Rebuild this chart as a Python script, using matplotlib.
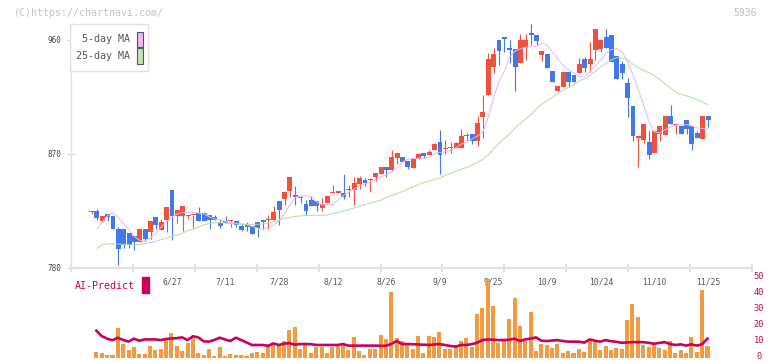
import numpy as np
import matplotlib.pyplot as plt
from matplotlib.patches import Rectangle
from matplotlib.transforms import blended_transform_factory

# daily candles (6/6 .. 11/25)
open_ = np.array([
    824.0, 825.0, 817.4, 822.7, 821.1, 811.0, 810.6, 807.4, 805.3, 800.5,
    810.6, 808.4, 820.1, 810.0, 818.1, 841.6, 821.1, 821.1, 821.1, 821.5,
    823.2, 823.2, 821.9, 820.5, 815.3, 817.4, 817.0, 817.4, 813.2, 814.0,
    813.2, 816.3, 817.9, 817.7, 817.9, 832.9, 834.5, 840.8, 837.6, 835.2,
    830.5, 833.7, 832.9, 827.4, 831.3, 839.0, 839.5, 839.2, 841.4, 841.6,
    846.3, 849.5, 849.3, 851.9, 854.2, 859.8, 857.4, 866.9, 867.6, 864.5,
    859.0, 866.1, 870.8, 869.2, 873.2, 879.5, 873.6, 874.6, 874.8, 874.8,
    884.0, 885.8, 880.5, 899.2, 916.6, 938.7, 960.0, 962.4, 953.7, 952.9,
    941.9, 953.7, 965.5, 963.9, 948.4, 949.0, 935.5, 919.8, 922.9, 934.7,
    932.4, 934.0, 945.0, 941.1, 952.1, 952.9, 962.4, 963.9, 947.4, 941.1,
    926.1, 907.9, 883.0, 881.1, 879.5, 870.8, 885.8, 885.0, 900.0, 892.7,
    892.1, 896.9, 892.1, 886.6, 881.9, 900.0])
high = np.array([
    825.0, 826.6, 821.1, 822.7, 821.1, 812.6, 810.6, 807.4, 805.3, 810.6,
    810.6, 817.4, 820.1, 818.5, 828.2, 841.6, 825.8, 829.0, 822.1, 822.0,
    828.0, 823.2, 821.9, 821.6, 818.5, 821.1, 817.5, 817.4, 814.8, 816.3,
    813.2, 816.3, 817.9, 821.6, 829.0, 832.9, 840.0, 851.9, 844.8, 836.9,
    833.7, 836.9, 832.9, 835.3, 836.9, 845.5, 840.8, 854.2, 845.5, 851.9,
    852.7, 851.1, 851.1, 855.0, 859.8, 859.8, 873.2, 870.8, 867.6, 864.5,
    866.9, 870.8, 870.8, 873.2, 878.7, 889.0, 881.1, 879.5, 879.5, 889.8,
    886.4, 885.8, 900.0, 916.6, 949.8, 953.7, 960.0, 962.4, 960.0, 952.9,
    964.8, 964.8, 972.6, 963.9, 951.3, 949.0, 935.5, 923.7, 934.7, 934.7,
    932.4, 945.8, 946.6, 958.4, 968.7, 960.8, 968.7, 963.9, 947.4, 943.4,
    930.0, 907.9, 883.5, 893.7, 888.2, 888.2, 892.1, 900.0, 908.7, 893.7,
    892.1, 896.9, 892.1, 888.2, 900.0, 900.0])
low = np.array([
    823.0, 818.1, 816.6, 817.4, 811.0, 782.6, 795.6, 795.6, 794.5, 800.5,
    801.6, 803.2, 811.0, 810.0, 808.7, 802.1, 815.8, 809.5, 818.7, 811.4,
    817.4, 817.4, 810.6, 817.9, 811.4, 815.3, 812.6, 812.6, 809.5, 809.5,
    806.9, 804.7, 810.6, 811.0, 817.9, 814.0, 829.8, 835.8, 829.8, 831.6,
    822.1, 829.0, 825.3, 825.3, 831.3, 839.0, 839.5, 834.7, 836.3, 829.8,
    842.6, 845.0, 840.3, 848.7, 854.2, 851.9, 857.4, 862.1, 863.7, 858.2,
    859.0, 866.1, 866.9, 869.2, 873.2, 854.2, 870.0, 870.6, 874.8, 874.8,
    880.5, 878.1, 876.6, 882.7, 916.6, 934.0, 940.3, 950.5, 941.9, 919.8,
    941.9, 944.5, 956.3, 956.3, 943.4, 937.9, 926.9, 919.8, 922.9, 922.9,
    926.9, 934.0, 934.7, 934.7, 944.2, 950.5, 953.7, 942.7, 929.2, 929.2,
    899.2, 880.3, 859.8, 878.7, 866.1, 870.8, 880.3, 885.0, 893.7, 885.8,
    885.8, 885.8, 873.2, 882.7, 881.9, 891.3])
close = np.array([
    824.3, 819.7, 821.1, 820.1, 811.0, 795.2, 798.2, 798.2, 800.5, 810.6,
    802.7, 817.4, 814.2, 816.3, 828.2, 821.3, 825.8, 829.0, 822.1, 821.9,
    817.4, 817.4, 817.9, 817.9, 813.2, 815.8, 817.2, 814.2, 810.0, 812.6,
    806.9, 811.4, 816.3, 818.7, 824.2, 825.8, 840.0, 851.9, 836.3, 835.4,
    825.3, 829.0, 829.0, 830.5, 836.9, 840.0, 840.8, 836.3, 841.6, 847.1,
    851.1, 847.4, 849.5, 855.0, 859.8, 857.4, 867.6, 870.8, 863.7, 859.8,
    866.1, 870.0, 868.4, 871.6, 877.9, 869.2, 873.9, 874.8, 878.7, 884.2,
    884.3, 880.5, 894.5, 903.2, 945.0, 949.0, 951.1, 960.8, 952.1, 938.7,
    960.0, 960.0, 963.7, 959.2, 951.3, 937.9, 926.9, 923.7, 934.7, 926.9,
    926.9, 941.1, 937.9, 945.0, 968.7, 960.0, 953.7, 942.7, 929.2, 934.0,
    914.2, 884.2, 883.2, 893.7, 869.2, 888.2, 892.1, 900.0, 893.7, 892.9,
    885.8, 889.8, 877.9, 882.7, 900.0, 896.9])

ma5 = np.array([
    np.nan, 811.0, 816.3, 821.5, 824.0, 819.5, 814.8, 810.0, 804.9, 801.7,
    801.3, 803.7, 807.6, 812.4, 816.7, 820.3, 822.7, 823.8, 824.0, 824.0,
    823.4, 822.7, 820.3, 818.7, 817.9, 816.7, 815.9, 815.3, 814.8, 814.0,
    812.8, 811.4, 810.6, 812.1, 814.0, 817.5, 822.7, 829.8, 835.8, 836.9,
    837.1, 836.1, 832.1, 829.8, 829.8, 830.2, 833.7, 837.3, 840.0, 842.4,
    844.8, 846.3, 847.9, 849.5, 851.9, 853.8, 855.8, 859.0, 863.7, 865.7,
    866.6, 866.6, 866.6, 867.6, 870.0, 871.2, 871.8, 872.8, 874.8, 877.9,
    879.5, 881.9, 884.2, 887.5, 899.0, 914.5, 927.0, 935.0, 946.6, 951.3,
    952.9, 954.3, 954.6, 955.0, 957.6, 955.7, 950.5, 945.0, 939.5, 936.3,
    934.0, 930.8, 931.6, 935.2, 939.5, 944.2, 949.8, 952.5, 953.2, 950.5,
    942.7, 932.4, 920.5, 908.7, 895.3, 887.4, 886.6, 889.0, 891.3, 892.7,
    892.9, 893.2, 892.1, 890.5, 890.1, 889.8])
ma25 = np.array([
    np.nan, 795.6, 798.2, 799.0, 799.0, 799.0, 798.7, 798.4, 798.2, 798.6,
    799.4, 800.2, 801.0, 802.5, 803.7, 804.9, 806.1, 807.6, 809.6, 810.8,
    812.4, 814.0, 815.1, 815.8, 815.8, 815.5, 815.1, 814.8, 814.5, 814.5,
    814.5, 814.5, 814.8, 815.5, 816.7, 817.9, 819.1, 819.9, 820.7, 821.1,
    821.5, 821.6, 821.6, 821.6, 821.9, 823.0, 823.8, 825.0, 826.2, 827.4,
    828.6, 830.1, 831.3, 832.5, 833.7, 835.7, 837.3, 838.8, 840.4, 842.4,
    844.0, 845.9, 847.5, 848.7, 849.9, 851.1, 853.1, 854.6, 856.6, 858.2,
    859.4, 861.3, 863.7, 865.7, 869.2, 874.0, 878.5, 882.3, 885.8, 890.5,
    894.1, 897.6, 901.2, 905.9, 909.5, 911.9, 914.6, 918.2, 920.5, 922.5,
    924.9, 927.4, 929.6, 932.0, 935.5, 938.7, 941.6, 944.2, 946.2, 945.8,
    944.2, 940.8, 937.9, 935.9, 934.0, 931.6, 928.8, 925.3, 922.1, 919.0,
    917.0, 915.8, 914.6, 912.7, 910.7, 908.9])

# lower panel (from the 2nd candle on)
volume = np.array([
    3.6, 2.8, 1.7, 1.7, 18.7, 8.6, 4.8, 6.7, 2.3, 2.3,
    7.4, 4.8, 5.5, 11.1, 15.5, 7.4, 4.2, 9.2, 13.0, 2.9,
    1.7, 5.5, 1.0, 6.5, 1.0, 2.3, 1.7, 1.7, 1.0, 2.9,
    3.6, 2.9, 8.6, 8.0, 7.4, 10.5, 17.4, 19.3, 5.5, 8.0,
    2.9, 6.7, 6.7, 2.9, 6.7, 7.4, 8.0, 4.8, 13.0, 4.2,
    1.7, 5.5, 5.5, 14.2, 11.7, 41.3, 12.4, 10.5, 8.6, 5.5,
    13.6, 2.9, 13.6, 13.0, 16.1, 5.5, 5.5, 8.0, 10.5, 12.4,
    6.7, 27.5, 31.3, 49.5, 32.5, 9.2, 10.5, 24.3, 37.5, 20.0,
    10.5, 28.7, 4.2, 8.6, 8.0, 6.1, 8.6, 2.9, 4.2, 2.9,
    5.5, 3.6, 10.5, 10.0, 4.8, 7.4, 4.8, 6.1, 5.3, 23.7,
    33.8, 25.6, 8.0, 6.7, 8.4, 6.1, 4.8, 10.5, 2.9, 4.8,
    2.9, 13.0, 3.6, 42.6, 7.4])
ai_predict = np.array([
    17.0, 13.6, 12.0, 11.0, 12.6, 11.1, 10.1, 12.0, 10.7, 11.5,
    11.5, 11.5, 11.1, 11.8, 12.1, 12.3, 12.8, 11.1, 13.5, 12.8,
    10.3, 10.1, 11.2, 12.6, 11.5, 10.5, 12.6, 11.1, 9.6, 8.0,
    8.0, 8.0, 7.4, 9.0, 8.0, 8.8, 9.2, 8.2, 8.6, 8.6,
    8.5, 8.0, 8.0, 8.0, 8.0, 8.0, 8.6, 7.6, 7.6, 7.6,
    7.6, 7.6, 7.6, 7.5, 7.5, 8.6, 10.5, 8.6, 8.6, 8.5,
    8.3, 8.2, 8.0, 8.3, 8.6, 8.0, 7.4, 7.0, 8.0, 8.0,
    8.5, 9.4, 11.1, 11.5, 11.3, 11.1, 11.1, 11.3, 12.0, 10.5,
    11.5, 12.0, 12.8, 10.7, 10.5, 10.8, 11.1, 10.5, 10.1, 10.1,
    10.1, 9.5, 11.5, 10.7, 10.1, 11.1, 10.4, 10.0, 9.4, 9.6,
    9.8, 9.8, 9.8, 9.4, 8.8, 9.3, 9.8, 8.6, 8.0, 8.4,
    7.6, 8.4, 7.6, 8.5, 12.0])

date_labels = ['6/27', '7/11', '7/28', '8/12', '8/26', '9/9',
               '9/25', '10/9', '10/24', '11/10', '11/25']
date_pos = [15, 25, 35, 45, 55, 65, 75, 85, 95, 105, 115]
right_ticks = [0, 10, 20, 30, 40, 50]

RED = '#f0503c'
BLUE = '#4278ec'
PINK = '#e8b6ee'
GREEN = '#b2dca2'
ORANGE = '#f29a40'
CRIMSON = '#cc0058'
MONO = 'DejaVu Sans Mono'

W, H = 772, 361
fig = plt.figure(figsize=(W / 100, H / 100), dpi=100)

def fx(px):
    return px / W

def fy(py):
    return 1 - py / H

x = np.arange(len(close))
xlim = (-3.84, 123.2)

# main price chart
ax = fig.add_axes([fx(71), fy(268), fx(752) - fx(71), fy(24) - fy(268)])
ax.set_xlim(*xlim)
ax.set_ylim(780, 972.6)

up = close >= open_
colors = np.where(up, RED, BLUE)
ax.vlines(x, low, high, colors=colors, lw=0.8, zorder=2)
body_h = np.maximum(np.abs(close - open_), 0.9)
body_lo = np.minimum(open_, close)
ax.bar(x, body_h, bottom=body_lo, width=0.92, color=colors, linewidth=0, zorder=2)
ax.plot(x, ma5, color=PINK, lw=0.7, zorder=3)
ax.plot(x, ma25, color=GREEN, lw=0.7, zorder=3)

for s in ['top', 'right']:
    ax.spines[s].set_visible(False)
ax.spines['left'].set_color('#e2e2e2')
ax.spines['left'].set_linewidth(0.9)
ax.spines['bottom'].set_color('#e2e2e2')
ax.spines['bottom'].set_linewidth(1.5)

ax.set_yticks([780, 870, 960])
ax.tick_params(axis='y', direction='inout', length=6, width=0.9, color='#d8d8d8',
               labelsize=5.5, labelcolor='#444444', pad=4)
for lab in ax.get_yticklabels():
    lab.set_family(MONO)
ax.set_xticks(np.linspace(xlim[0], xlim[1], 12))
ax.set_xticklabels([])
ax.tick_params(axis='x', direction='inout', length=6, width=1.2, color='#dcdcdc')

trans = blended_transform_factory(ax.transData, ax.transAxes)
for p, lab in zip(date_pos, date_labels):
    ax.text(p, -0.058, lab, transform=trans, ha='center', va='center',
            fontsize=5.8, color='#555555', family=MONO)

# lower panel: volume + AI predict
ax2 = fig.add_axes([fx(71), fy(357.7), fx(752) - fx(71), fy(278.3) - fy(357.7)])
ax2.set_xlim(*xlim)
ax2.set_ylim(0, 50)
ax2.patch.set_alpha(0)
xv = np.arange(1, len(volume) + 1) - 0.1
ax2.bar(xv, volume, width=0.75, color=ORANGE, linewidth=0)
ax2.plot(xv, ai_predict, color=CRIMSON, lw=1.9, solid_joinstyle='round')
for s in ax2.spines.values():
    s.set_visible(False)
ax2.set_xticks([])
ax2.set_yticks([])

rtrans = blended_transform_factory(fig.transFigure, ax2.transData)
for v in right_ticks:
    ax2.text(fx(759), v + 0.9, str(v), transform=rtrans, ha='center', va='center',
             fontsize=6.2, color=CRIMSON, family=MONO)

fig.text(fx(75), fy(286), 'AI-Predict', color=CRIMSON, fontsize=7.2,
         family=MONO, va='center', ha='left')
fig.patches.append(Rectangle((fx(142), fy(293)), fx(7), 16 / H,
                             transform=fig.transFigure, color=CRIMSON))

# header texts
fig.text(fx(14), fy(12.5), '(C)https://chartnavi.com/', color='#c4c4c4',
         fontsize=7.2, family=MONO, va='center', ha='left')
fig.text(fx(757), fy(12.5), '5936', color='#c0c0c0', fontsize=7,
         family=MONO, va='center', ha='right')

# legend box
fig.patches.append(Rectangle((fx(70), fy(71)), fx(78), 47 / H, transform=fig.transFigure,
                             facecolor='white', edgecolor='#e0e0e0', lw=1, zorder=5))
for yy, lab, c in [(39.5, '5-day MA', '#f0b8ec'), (56, '25-day MA', '#c4e4b4')]:
    fig.text(fx(130), fy(yy), lab, color='#555555', fontsize=7.2, family=MONO,
             ha='right', va='center', zorder=6)
    fig.patches.append(Rectangle((fx(136.5), fy(yy + 7.5)), fx(6), 15 / H,
                                 transform=fig.transFigure, facecolor=c,
                                 edgecolor='#555555', lw=0.8, zorder=6))

fig.savefig('out.png', dpi=100)
